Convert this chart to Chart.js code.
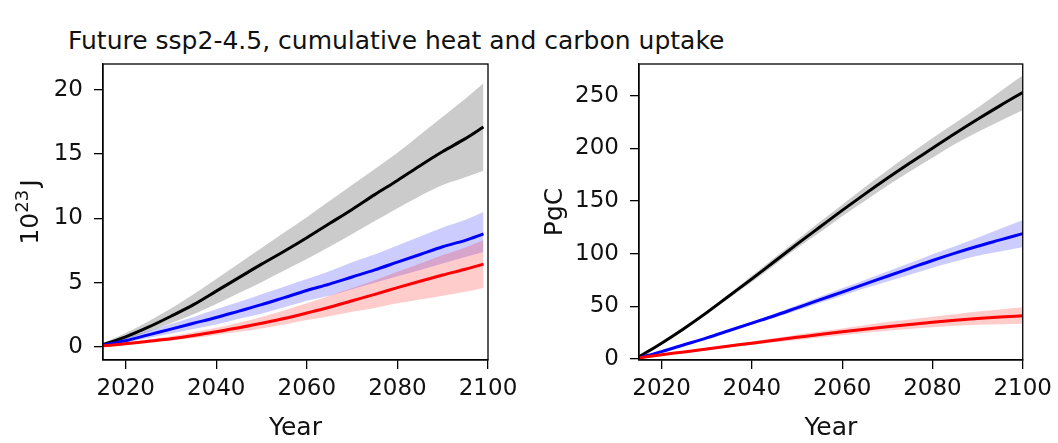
<!DOCTYPE html>
<html>
<head>
<meta charset="utf-8">
<script src="https://cdn.jsdelivr.net/npm/chart.js@4.4.1/dist/chart.umd.min.js"></script>
<style>
  html, body { margin: 0; padding: 0; background: #fff; }
  body { width: 1058px; height: 443px; position: relative; overflow: hidden; font-family: "DejaVu Sans", sans-serif; }
  #title { position: absolute; left: 68px; top: 26px; font-size: 25px; line-height: 30px; color: #111; white-space: nowrap; }
  .box { position: absolute; top: 0; height: 443px; }
  #leftBox { left: 0; width: 530px; }
  #rightBox { left: 530px; width: 528px; }
</style>
</head>
<body>
<div id="title">Future ssp2-4.5, cumulative heat and carbon uptake</div>
<div class="box" id="leftBox"><canvas id="heatChart"></canvas></div>
<div class="box" id="rightBox"><canvas id="carbonChart"></canvas></div>
<script>
// years
const heatYears = [2015, 2020, 2025, 2030, 2035, 2040, 2045, 2050, 2055, 2060, 2065, 2070, 2075, 2080, 2085, 2090, 2095, 2099];
const carbonYears = [2015, 2020, 2025, 2030, 2035, 2040, 2045, 2050, 2055, 2060, 2065, 2070, 2075, 2080, 2085, 2090, 2095, 2100];

// cumulative heat uptake, 10^23 J
const heatBlack = [0.2, 0.8, 1.55, 2.4, 3.3, 4.35, 5.4, 6.45, 7.45, 8.5, 9.6, 10.7, 11.85, 12.95, 14.1, 15.2, 16.2, 17.1];
const heatBlackHi = [0.3, 1.1, 2.0, 3.0, 4.1, 5.3, 6.5, 7.7, 8.9, 10.1, 11.35, 12.6, 13.85, 15.1, 16.5, 17.9, 19.3, 20.5];
const heatBlackLo = [0.1, 0.6, 1.2, 1.85, 2.55, 3.35, 4.2, 5.05, 5.95, 6.85, 7.8, 8.8, 9.8, 10.8, 11.75, 12.6, 13.2, 13.7];
const heatBlue = [0.15, 0.5, 0.95, 1.4, 1.85, 2.3, 2.8, 3.3, 3.85, 4.4, 4.9, 5.45, 6.0, 6.6, 7.2, 7.8, 8.3, 8.8];
const heatBlueHi = [0.25, 0.7, 1.25, 1.8, 2.35, 2.95, 3.5, 4.1, 4.7, 5.3, 5.9, 6.6, 7.2, 7.9, 8.6, 9.3, 9.9, 10.5];
const heatBlueLo = [0.1, 0.35, 0.7, 1.05, 1.4, 1.75, 2.2, 2.6, 3.1, 3.6, 4.0, 4.5, 5.0, 5.5, 6.0, 6.5, 7.0, 7.4];
const heatRed = [0.1, 0.26, 0.45, 0.65, 0.9, 1.2, 1.5, 1.85, 2.22, 2.65, 3.1, 3.6, 4.1, 4.62, 5.12, 5.6, 6.05, 6.45];
const heatRedHi = [0.15, 0.35, 0.6, 0.85, 1.15, 1.5, 1.9, 2.35, 2.85, 3.4, 4.0, 4.6, 5.2, 5.85, 6.5, 7.15, 7.75, 8.3];
const heatRedLo = [0.05, 0.2, 0.35, 0.5, 0.7, 0.95, 1.2, 1.45, 1.75, 2.1, 2.4, 2.75, 3.05, 3.4, 3.7, 4.0, 4.3, 4.6];

// cumulative carbon uptake, PgC
const carbonBlack = [2, 15, 29, 44, 60, 76, 92.5, 109, 125, 141, 156.5, 171.5, 186, 200, 214, 227.5, 240.5, 253];
const carbonBlackHi = [2, 16, 30.5, 46, 62, 79, 96, 113, 130, 146.5, 163, 179, 194.5, 209.5, 224, 238.5, 254, 269];
const carbonBlackLo = [2, 14, 27.5, 42, 58, 73, 89, 105, 120, 135.5, 150, 164.5, 178, 191, 204, 215.5, 226, 236];
const carbonBlue = [1, 7, 13.5, 20, 27, 34, 41, 48.5, 56, 63.5, 71, 78.5, 86, 93.5, 100.5, 107, 113, 119];
const carbonBlueHi = [1, 7.5, 14, 21, 28, 35.5, 43, 51, 59, 67, 75, 83, 91, 99.5, 107, 115, 123.5, 132];
const carbonBlueLo = [1, 6.5, 13, 19, 26, 32.5, 39, 46, 53, 60, 67, 73.5, 80, 86.5, 92.5, 98, 102, 106];
const carbonRed = [1, 4, 6.7, 9.5, 12.3, 15, 17.8, 20.5, 23.2, 25.8, 28.2, 30.5, 32.7, 34.8, 36.7, 38.4, 39.8, 41];
const carbonRedHi = [1, 4.5, 7.4, 10.5, 13.5, 16.6, 19.8, 23, 26, 29, 32, 35, 37.5, 40, 42.5, 45, 47, 49];
const carbonRedLo = [1, 3.5, 6, 8.5, 11, 13.4, 15.8, 18, 20.4, 22.6, 24.8, 26.8, 28.5, 30.1, 31.4, 32.4, 33, 33.5];

// tick labels
const xTicks = [2020, 2040, 2060, 2080, 2100];
const heatTicks = [0, 5, 10, 15, 20];
const carbonTicks = [0, 50, 100, 150, 200, 250];

const FONT = '"DejaVu Sans", sans-serif';

function pts(xs, ys) {
    return xs.map((x, i) => ({ x: x, y: ys[i] }));
}

function band(xs, ys, color, fill, order) {
    return {
        data: pts(xs, ys),
        borderWidth: 0,
        pointRadius: 0,
        backgroundColor: color,
        fill: fill,
        cubicInterpolationMode: 'monotone',
        order: order
    };
}

function line(xs, ys, color, order) {
    return {
        data: pts(xs, ys),
        borderColor: color,
        borderWidth: 3,
        pointRadius: 0,
        fill: false,
        cubicInterpolationMode: 'monotone',
        order: order
    };
}

// matplotlib-style box round the plot area
const frame = {
    id: 'frame',
    afterDatasetsDraw(chart) {
        const a = chart.chartArea;
        const c = chart.ctx;
        c.save();
        c.strokeStyle = '#000';
        c.lineWidth = 1.3;
        c.strokeRect(a.left, a.top, a.right - a.left, a.bottom - a.top);
        c.restore();
    }
};

// y title with a real superscript: 10^23 J
const powerTitle = {
    id: 'powerTitle',
    afterDraw(chart) {
        const a = chart.chartArea;
        const c = chart.ctx;
        const big = '25px ' + FONT, small = '18px ' + FONT;
        c.save();
        c.fillStyle = '#111';
        c.textBaseline = 'alphabetic';
        c.font = big;
        const w1 = c.measureText('10').width;
        const w3 = c.measureText('J').width;
        c.font = small;
        const w2 = c.measureText('23').width;
        const total = w1 + w2 + 3 + w3;
        c.translate(38, (a.top + a.bottom) / 2);
        c.rotate(-Math.PI / 2);
        let x = -total / 2;
        c.font = big;
        c.fillText('10', x, 0); x += w1;
        c.font = small;
        c.fillText('23', x, -10); x += w2 + 3;
        c.font = big;
        c.fillText('J', x, 0);
        c.restore();
    }
};

function makeChart(id, xs, sets, yMin, yMax, yTickVals, yTitle, yAxisWidth, padRight, yTitlePad, extra) {
    const black = sets[0], blue = sets[1], red = sets[2];
    return new Chart(document.getElementById(id), {
        type: 'line',
        data: {
            datasets: [
                band(xs, black[1], 'rgba(140,140,140,0.45)', '+1', 30),
                band(xs, black[2], 'rgba(0,0,0,0)', false, 29),
                band(xs, blue[1], 'rgba(0,0,255,0.2)', '+1', 20),
                band(xs, blue[2], 'rgba(0,0,0,0)', false, 19),
                band(xs, red[1], 'rgba(255,0,0,0.2)', '+1', 10),
                band(xs, red[2], 'rgba(0,0,0,0)', false, 9),
                line(xs, black[0], '#000000', 3),
                line(xs, blue[0], '#0000ff', 2),
                line(xs, red[0], '#ff0000', 1)
            ]
        },
        options: {
            responsive: true,
            maintainAspectRatio: false,
            animation: false,
            layout: { padding: { top: 64, right: padRight, left: 0, bottom: 0 } },
            plugins: { legend: { display: false }, tooltip: { enabled: false } },
            scales: {
                x: {
                    type: 'linear',
                    min: 2015,
                    max: 2100,
                    afterBuildTicks: s => { s.ticks = xTicks.map(v => ({ value: v })); },
                    afterFit: s => { s.height = 83; },
                    grid: { drawOnChartArea: false, color: '#000', lineWidth: 1.3, tickLength: 9 },
                    border: { color: '#000', width: 1.3 },
                    ticks: { color: '#111', font: { family: FONT, size: 23 }, padding: 6, maxRotation: 0, callback: v => String(v) },
                    title: { display: true, text: 'Year', color: '#111', font: { family: FONT, size: 25 }, padding: { top: 0, bottom: 0 } }
                },
                y: {
                    min: yMin,
                    max: yMax,
                    afterBuildTicks: s => { s.ticks = yTickVals.map(v => ({ value: v })); },
                    afterFit: s => { s.width = yAxisWidth; },
                    grid: { drawOnChartArea: false, color: '#000', lineWidth: 1.3, tickLength: 9 },
                    border: { color: '#000', width: 1.3 },
                    ticks: { color: '#111', font: { family: FONT, size: 23 }, padding: 11, callback: v => String(v) },
                    title: { display: yTitle !== '', text: yTitle, color: '#111', font: { family: FONT, size: 25 }, padding: { top: yTitlePad, bottom: 0 } }
                }
            }
        },
        plugins: [frame].concat(extra)
    });
}

makeChart('heatChart', heatYears,
    [[heatBlack, heatBlackHi, heatBlackLo], [heatBlue, heatBlueHi, heatBlueLo], [heatRed, heatRedHi, heatRedLo]],
    -1, 22, heatTicks, '', 103, 42, 24, [powerTitle]);

makeChart('carbonChart', carbonYears,
    [[carbonBlack, carbonBlackHi, carbonBlackLo], [carbonBlue, carbonBlueHi, carbonBlueLo], [carbonRed, carbonRedHi, carbonRedLo]],
    -1, 280, carbonTicks, 'PgC', 109, 31, 10, []);
</script>
</body>
</html>
